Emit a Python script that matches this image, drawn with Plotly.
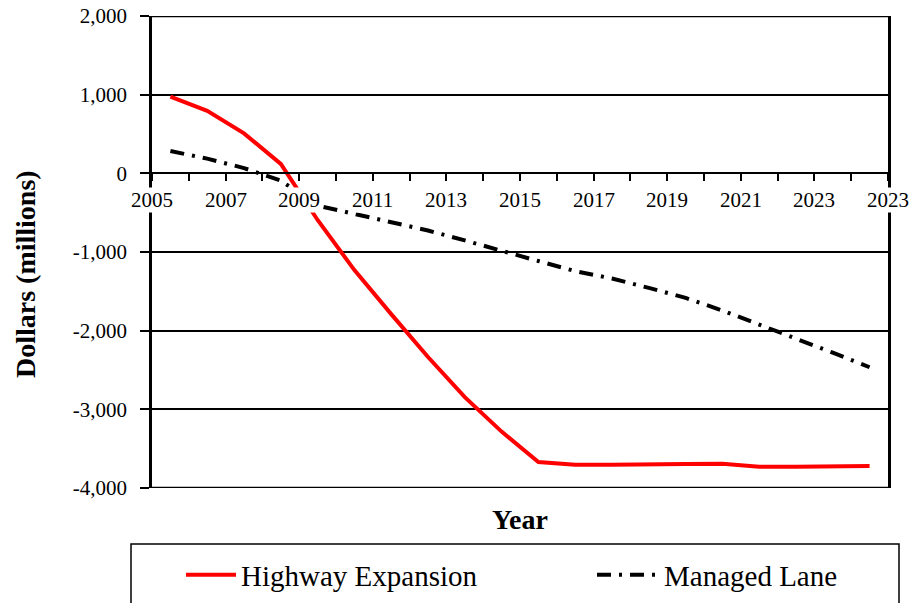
import plotly.graph_objects as go

# ---- data ----
x_tick_labels = ["2005", "2007", "2009", "2011", "2013", "2015",
                 "2017", "2019", "2021", "2023", "2023"]
n_periods = 20
highway = [975, 795, 508, 120, -593, -1230, -1790, -2335, -2845, -3283,
           -3670, -3704, -3704, -3695, -3695, -3691, -3729, -3729, -3720, -3720]
managed = [283, 187, 67, -93, -410, -515, -618, -727, -853, -990,
           -1115, -1243, -1337, -1456, -1583, -1744, -1919, -2105, -2280, -2465]
y_ticks = [2000, 1000, 0, -1000, -2000, -3000, -4000]
y_tick_labels = ["2,000", "1,000", "0", "-1,000", "-2,000", "-3,000", "-4,000"]
series_names = ["Highway Expansion", "Managed Lane"]

# category centres / boundaries
x_pos = [i + 0.5 for i in range(n_periods)]
tick_pos = list(range(n_periods + 1))
label_pos = tick_pos[::2]

FONT = "Times New Roman, Liberation Serif, serif"
W, H = 910, 603
L, R, T, B = 152, 22, 16, 115
plot_w = W - L - R
plot_h = H - T - B
y_min, y_max = min(y_ticks), max(y_ticks)
zero_frac = (0 - y_min) / (y_max - y_min)


def px_x(px):
    return (px - L) / plot_w


def px_y(py):
    return (H - B - py) / plot_h


fig = go.Figure()
fig.add_trace(go.Scatter(
    x=x_pos, y=highway, mode="lines", name=series_names[0],
    line=dict(color="#ff0000", width=4), legend="legend"))
fig.add_trace(go.Scatter(
    x=x_pos, y=managed, mode="lines", name=series_names[1],
    line=dict(color="black", width=4, dash="14px,8px,3px,8px"),
    legend="legend2"))

legend_common = dict(
    orientation="h", xanchor="left", yanchor="middle", y=px_y(575),
    font=dict(size=29, family=FONT, color="black"),
    bgcolor="rgba(0,0,0,0)", borderwidth=0)

fig.update_layout(
    width=W, height=H,
    margin=dict(l=L, r=R, t=T, b=B, autoexpand=False),
    paper_bgcolor="white", plot_bgcolor="white",
    font=dict(family=FONT, color="black", size=21),
    showlegend=True,
    legend=dict(x=px_x(181), itemwidth=50, **legend_common),
    legend2=dict(x=px_x(592), itemwidth=62, **legend_common),
    xaxis=dict(
        range=[0, n_periods], tickvals=tick_pos,
        ticktext=[""] * len(tick_pos),
        ticks="outside", ticklen=7, tickwidth=2, tickcolor="black",
        showline=True, linecolor="black", linewidth=2,
        showgrid=False, zeroline=False,
        anchor="free", position=zero_frac),
    yaxis=dict(
        range=[y_min, y_max], tickvals=y_ticks, ticktext=y_tick_labels,
        ticks="outside", ticklen=9, tickwidth=2, tickcolor="black",
        ticklabelstandoff=9,
        showline=True, linecolor="black", linewidth=2.5, mirror=True,
        showgrid=True, gridcolor="black", gridwidth=2, zeroline=False,
        tickfont=dict(size=21, family=FONT)),
)

# top / bottom frame lines of the plot (gridlines at the range ends)
for yv in (y_min, y_max):
    fig.add_shape(type="line", xref="paper", yref="y", x0=0, x1=1,
                  y0=yv, y1=yv, line=dict(color="black", width=2.5))

# x tick labels drawn with a white background (like the original)
for pos, lab in zip(label_pos, x_tick_labels):
    fig.add_annotation(
        x=pos, y=0, xref="x", yref="y", text=lab, showarrow=False,
        yanchor="middle", yshift=-27, bgcolor="white", borderpad=0,
        font=dict(size=21, family=FONT, color="black"))

# axis titles
fig.add_annotation(
    x=0.5, y=px_y(519), xref="paper", yref="paper", text="<b>Year</b>",
    showarrow=False, xanchor="center", yanchor="middle",
    font=dict(size=28, family=FONT, color="black"))
fig.add_annotation(
    x=px_x(25), y=px_y(274), xref="paper", yref="paper",
    text="<b>Dollars (millions)</b>", textangle=-90,
    showarrow=False, xanchor="center", yanchor="middle",
    font=dict(size=28, family=FONT, color="black"))

# legend frame
fig.add_shape(
    type="rect", xref="paper", yref="paper",
    x0=px_x(131), x1=px_x(899), y0=px_y(544), y1=px_y(640),
    line=dict(color="black", width=1.5), fillcolor="rgba(0,0,0,0)")

fig.write_html(
    "out.html",
    config={"displayModeBar": False, "staticPlot": False},
    post_script="document.body.style.margin='0';"
                "document.body.style.padding='0';"
                "document.body.style.overflow='hidden';")
